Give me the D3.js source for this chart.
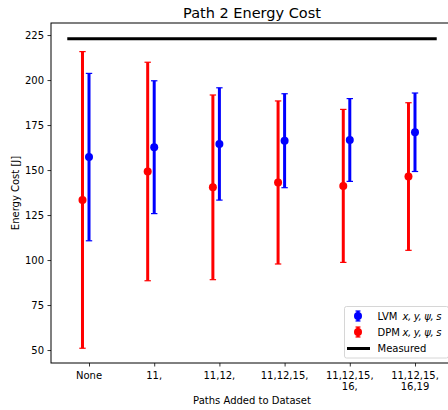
<!DOCTYPE html>
<html>
<head>
<meta charset="utf-8">
<script src="https://cdn.jsdelivr.net/npm/d3@7"></script>
<style>
  html, body { margin: 0; padding: 0; background: #fff; }
  svg { display: block; font-family: "DejaVu Sans", sans-serif; }
</style>
</head>
<body>
<svg id="chart" width="448" height="410"></svg>
<script>
// Categories: paths added to the training dataset (multi-line labels)
const categories = [["None"], ["11,"], ["11,12,"], ["11,12,15,"], ["11,12,15,", "16,"], ["11,12,15,", "16,19"]];

// LVM x, y, psi, s: mean energy cost and error half-width
const lvmMean = [157.2, 162.7, 164.5, 166.3, 166.7, 171.0];
const lvmErr  = [46.5, 36.9, 31.2, 26.1, 23.0, 21.8];

// DPM x, y, psi, s: mean energy cost and error half-width
const dpmMean = [133.4, 149.2, 140.4, 143.1, 141.2, 146.4];
const dpmErr  = [82.4, 60.7, 51.3, 45.3, 42.5, 41.0];

// Measured energy cost
const measured = 223;

const yTicks = [50, 75, 100, 125, 150, 175, 200, 225];

const svg = d3.select("#chart");
const margin = { left: 51, top: 23, right: 453, bottom: 363 };

const x = d3.scaleLinear().domain([-0.583, 5.583]).range([margin.left, margin.right]);
const y = d3.scaleLinear().domain([42.8, 231.7]).range([margin.bottom, margin.top]);

// Title
svg.append("text")
  .attr("x", (margin.left + margin.right) / 2).attr("y", 18)
  .attr("text-anchor", "middle").attr("font-size", 14.5).attr("fill", "#000")
  .text("Path 2 Energy Cost");

// Axes
const yAxis = d3.axisLeft(y).tickValues(yTicks).tickSize(3.5).tickPadding(3.5);
const gy = svg.append("g").attr("transform", `translate(${margin.left},0)`).call(yAxis);
gy.select(".domain").remove();
gy.selectAll("text").attr("font-size", 10).attr("font-family", "DejaVu Sans, sans-serif").attr("fill", "#000");
gy.selectAll("line").attr("stroke", "#000").attr("stroke-width", 0.8);

const xAxis = d3.axisBottom(x).tickValues(d3.range(categories.length)).tickSize(3.5).tickFormat(() => "");
const gx = svg.append("g").attr("transform", `translate(0,${margin.bottom})`).call(xAxis);
gx.select(".domain").remove();
gx.selectAll("line").attr("stroke", "#000").attr("stroke-width", 0.8);

// Multi-line category labels
const tl = svg.append("g");
categories.forEach((lines, i) => {
  const t = tl.append("text")
    .attr("x", x(i)).attr("y", margin.bottom + 15.5)
    .attr("text-anchor", "middle").attr("font-size", 10).attr("fill", "#000");
  lines.forEach((ln, k) => {
    t.append("tspan").attr("x", x(i)).attr("dy", k === 0 ? 0 : 11.5).text(ln);
  });
});

// Axis labels
svg.append("text")
  .attr("x", (margin.left + margin.right) / 2).attr("y", 404)
  .attr("text-anchor", "middle").attr("font-size", 10).attr("fill", "#000")
  .text("Paths Added to Dataset");
svg.append("text")
  .attr("transform", `translate(19,${(margin.top + margin.bottom) / 2}) rotate(-90)`)
  .attr("text-anchor", "middle").attr("font-size", 10).attr("fill", "#000")
  .text("Energy Cost [J]");

// Error bar series
function drawSeries(means, errs, offset, color) {
  const g = svg.append("g");
  means.forEach((m, i) => {
    const cx = x(i + offset);
    g.append("line")
      .attr("x1", cx).attr("x2", cx)
      .attr("y1", y(m - errs[i])).attr("y2", y(m + errs[i]))
      .attr("stroke", color).attr("stroke-width", 3);
    [m - errs[i], m + errs[i]].forEach(v => {
      g.append("line")
        .attr("x1", cx - 3.2).attr("x2", cx + 3.2)
        .attr("y1", y(v)).attr("y2", y(v))
        .attr("stroke", color).attr("stroke-width", 1.2);
    });
    g.append("circle").attr("cx", cx).attr("cy", y(m)).attr("r", 4).attr("fill", color);
  });
}
drawSeries(lvmMean, lvmErr, 0, "#0000ff");
drawSeries(dpmMean, dpmErr, -0.1, "#ff0000");

// Measured reference line
svg.append("line")
  .attr("x1", x(-1 / 3)).attr("x2", x(5 + 1 / 3))
  .attr("y1", y(measured)).attr("y2", y(measured))
  .attr("stroke", "#000").attr("stroke-width", 3);

// Axes frame
svg.append("rect")
  .attr("x", margin.left).attr("y", margin.top)
  .attr("width", margin.right - margin.left).attr("height", margin.bottom - margin.top)
  .attr("fill", "none").attr("stroke", "#000").attr("stroke-width", 1);

// Legend
const lg = svg.append("g");
lg.append("rect")
  .attr("x", 344.5).attr("y", 306.5).attr("width", 104).attr("height", 51.5).attr("rx", 2)
  .attr("fill", "#fff").attr("fill-opacity", 0.8).attr("stroke", "#ccc").attr("stroke-width", 0.8);

function legendErr(cy, color) {
  const cx = 358;
  lg.append("line").attr("x1", cx).attr("x2", cx).attr("y1", cy - 5).attr("y2", cy + 5)
    .attr("stroke", color).attr("stroke-width", 3);
  [cy - 5, cy + 5].forEach(v => lg.append("line").attr("x1", cx - 2.5).attr("x2", cx + 2.5)
    .attr("y1", v).attr("y2", v).attr("stroke", color).attr("stroke-width", 1.2));
  lg.append("circle").attr("cx", cx).attr("cy", cy).attr("r", 4).attr("fill", color);
}
function legendText(ty, name, withVars) {
  lg.append("text").attr("x", 377.5).attr("y", ty + 3.5)
    .attr("font-size", 10).attr("fill", "#000").text(name);
  if (withVars) {
    lg.append("text").attr("x", 402.5).attr("y", ty + 3.5)
      .attr("font-size", 10).attr("font-style", "italic").attr("fill", "#000")
      .attr("textLength", 39).attr("lengthAdjust", "spacing")
      .text("x, y, ψ, s");
  }
}
legendErr(316, "#0000ff");
legendText(316, "LVM", true);
legendErr(332, "#ff0000");
legendText(332, "DPM", true);
lg.append("line").attr("x1", 347).attr("x2", 370).attr("y1", 348.5).attr("y2", 348.5)
  .attr("stroke", "#000").attr("stroke-width", 3);
legendText(348.5, "Measured", false);
</script>
</body>
</html>
